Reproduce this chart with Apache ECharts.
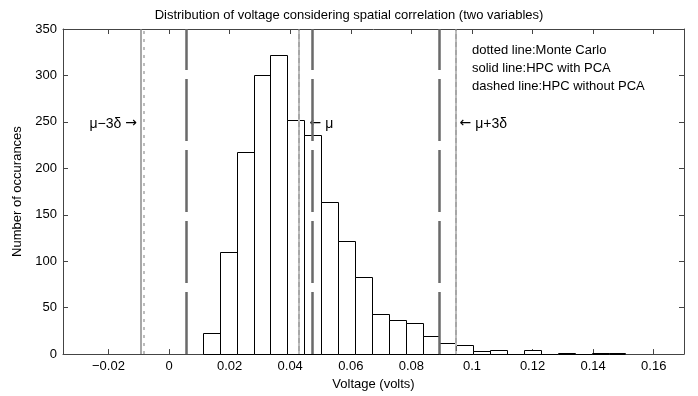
<!DOCTYPE html>
<html>
<head>
<meta charset="utf-8">
<script src="https://cdn.jsdelivr.net/npm/echarts@6/dist/echarts.min.js"></script>
<style>
  html, body { margin: 0; padding: 0; background: #fff; }
  #chart { width: 698px; height: 396px; }
</style>
</head>
<body>
<div id="chart"></div>
<script>
// histogram: 25 equal bins starting at binStart
const binStart = 0.01116
const binWidth = 0.00558
const counts = [23, 110, 218, 300, 322, 252, 236, 164, 122, 83, 43, 37, 33, 20, 12, 10, 3, 4, 0, 4, 0, 1, 0, 1, 1]

// vertical marker lines (mu-3d, mu, mu+3d)
const monteCarlo = [-0.0084, 0.0429, 0.0946]   // dotted
const hpcWithPca = [-0.0093, 0.0428, 0.0947]   // solid
const hpcNoPca = [0.0056, 0.0473, 0.0891]      // dashed

const xTicks = [-0.02, 0, 0.02, 0.04, 0.06, 0.08, 0.1, 0.12, 0.14, 0.16]
const xTickLabels = ['\u22120.02', '0', '0.02', '0.04', '0.06', '0.08', '0.1', '0.12', '0.14', '0.16']
const yTicks = [0, 50, 100, 150, 200, 250, 300, 350]

// {a|..} = arrow glyph
const annotations = [
  { x: -0.0106, y: 248, text: '\u03bc\u22123\u03b4 {a|\u2192}', side: 'left' },
  { x: 0.0464, y: 248, text: '{a|\u2190} \u03bc', side: 'right' },
  { x: 0.0959, y: 248, text: '{a|\u2190} \u03bc+3\u03b4', side: 'right' }
]
const legendLines = ['dotted line:Monte Carlo', 'solid line:HPC with PCA', 'dashed line:HPC without PCA']

const font = 'Liberation Sans, Arial, Helvetica, sans-serif'
const frame = '#444'

let chart = echarts.init(document.getElementById('chart'), null, { renderer: 'canvas' })

let barData = counts.map((c, i) => [binStart + i * binWidth, binStart + (i + 1) * binWidth, c])

function lineMarks (xs, style) {
  return {
    type: 'line',
    data: [],
    silent: true,
    markLine: {
      symbol: 'none',
      silent: true,
      animation: false,
      precision: 6,
      label: { show: false },
      lineStyle: style,
      data: xs.map(v => ({ xAxis: v }))
    }
  }
}

const axisCommon = {
  type: 'value',
  axisLine: { show: true, onZero: false, lineStyle: { color: frame, width: 1 } },
  axisTick: { show: true, inside: true, length: 5, lineStyle: { color: frame } },
  splitLine: { show: false }
}

let option = {
  animation: false,
  title: {
    text: 'Distribution of voltage considering spatial correlation (two variables)',
    left: 'center',
    top: 4,
    textStyle: { fontFamily: font, fontSize: 13, fontWeight: 'normal', color: '#000' }
  },
  grid: { left: 63, right: 14, top: 29, bottom: 41 },
  xAxis: [
    Object.assign({}, axisCommon, {
      min: -0.035,
      max: 0.17,
      position: 'bottom',
      name: 'Voltage (volts)',
      nameLocation: 'middle',
      nameGap: 19,
      nameTextStyle: { fontFamily: font, fontSize: 13, color: '#000' },
      axisTick: Object.assign({}, axisCommon.axisTick, { customValues: xTicks }),
      axisLabel: {
        customValues: xTicks,
        margin: 6,
        fontFamily: font, fontSize: 13, color: '#000',
        formatter: v => {
          let i = xTicks.findIndex(t => Math.abs(t - v) < 1e-9)
          return i >= 0 ? xTickLabels[i] : ''
        }
      }
    }),
    Object.assign({}, axisCommon, {
      min: -0.035,
      max: 0.17,
      position: 'top',
      axisTick: Object.assign({}, axisCommon.axisTick, { customValues: xTicks }),
      axisLabel: { show: false }
    })
  ],
  yAxis: [
    Object.assign({}, axisCommon, {
      min: 0,
      max: 350,
      interval: 50,
      position: 'left',
      name: 'Number of occurances',
      nameLocation: 'middle',
      nameGap: 38,
      nameTextStyle: { fontFamily: font, fontSize: 13, color: '#000' },
      axisLabel: { margin: 6, fontFamily: font, fontSize: 13, color: '#000' }
    }),
    Object.assign({}, axisCommon, {
      min: 0,
      max: 350,
      interval: 50,
      position: 'right',
      axisLabel: { show: false }
    })
  ],
  graphic: [{
    type: 'text',
    left: 472,
    top: 41,
    style: {
      text: legendLines.join('\n'),
      font: '13px ' + font,
      lineHeight: 18,
      fill: '#000'
    }
  }],
  series: [
    {
      type: 'custom',
      data: barData,
      encode: { x: [0, 1], y: 2 },
      renderItem: (params, api) => {
        let top = api.coord([api.value(0), api.value(2)])
        let base = api.coord([api.value(1), 0])
        let x0 = Math.round(top[0]) + 0.5
        let x1 = Math.round(base[0]) + 0.5
        let y0 = Math.round(top[1]) + 0.5
        let y1 = Math.round(base[1]) + 0.5
        return {
          type: 'rect',
          shape: { x: x0, y: y0, width: x1 - x0, height: y1 - y0 },
          style: { fill: '#fff', stroke: '#000', lineWidth: 1 }
        }
      }
    },
    lineMarks(hpcWithPca, { type: 'solid', color: '#8a8a8a', width: 1.5 }),
    lineMarks(monteCarlo, { type: [3, 5], color: '#bdbdbd', width: 2 }),
    lineMarks(hpcNoPca, { type: [62, 9], color: '#6a6a6a', width: 2.5 }),
    {
      type: 'scatter',
      symbolSize: 0,
      silent: true,
      itemStyle: { opacity: 1 },
      data: annotations.map(a => ({
        value: [a.x, a.y],
        label: {
          show: true,
          formatter: a.text,
          position: a.side,
          distance: 0,
          fontFamily: font,
          fontSize: 14,
          color: '#000',
          rich: {
            a: { fontFamily: 'DejaVu Sans', fontSize: 14, color: '#000' }
          }
        }
      }))
    }
  ]
}

chart.setOption(option)
</script>
</body>
</html>
